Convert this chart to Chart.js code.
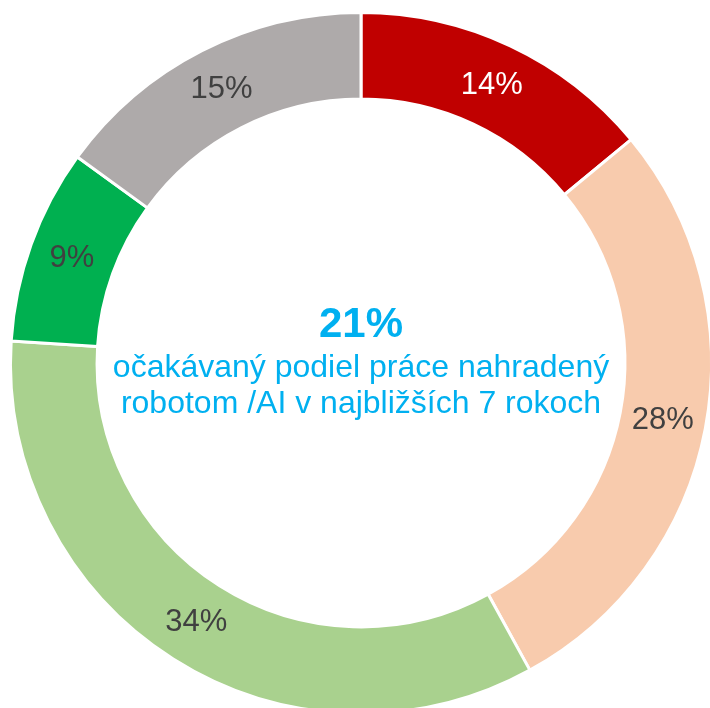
<!DOCTYPE html>
<html>
<head>
<meta charset="utf-8">
<script src="https://cdn.jsdelivr.net/npm/chart.js@4"></script>
<style>
  html, body { margin: 0; padding: 0; background: #fff; overflow: hidden; }
  canvas { display: block; }
</style>
</head>
<body>
<canvas id="ring" width="722" height="726"></canvas>
<script>
const shares = [14, 28, 34, 9, 15];
const sliceColors = ["#C00000", "#F8CBAD", "#A9D18E", "#00B050", "#AEAAAA"];
const labelColors = ["#ffffff", "#404040", "#404040", "#404040", "#404040"];
const centerValue = "21%";
const centerLines = ["očakávaný podiel práce nahradený", "robotom /AI v najbližších 7 rokoch"];

// percent labels in the middle of every ring segment
const sliceLabels = {
  id: "sliceLabels",
  afterDatasetsDraw(chart) {
    const ctx = chart.ctx;
    const meta = chart.getDatasetMeta(0);
    ctx.save();
    ctx.font = "31px 'Liberation Sans', Arial, sans-serif";
    ctx.textAlign = "center";
    ctx.textBaseline = "middle";
    meta.data.forEach((arc, i) => {
      const p = arc.tooltipPosition();
      ctx.fillStyle = labelColors[i];
      ctx.fillText(shares[i] + "%", p.x, p.y);
    });
    ctx.restore();
  }
};

const centerText = {
  id: "centerText",
  afterDraw(chart) {
    const ctx = chart.ctx;
    const arc = chart.getDatasetMeta(0).data[0];
    const cx = arc.x, cy = arc.y;
    ctx.save();
    ctx.fillStyle = "#00B0F0";
    ctx.textAlign = "center";
    ctx.textBaseline = "alphabetic";
    ctx.font = "bold 42px 'Liberation Sans', Arial, sans-serif";
    ctx.fillText(centerValue, cx, cy - 26);
    ctx.font = "32px 'Liberation Sans', Arial, sans-serif";
    ctx.fillText(centerLines[0], cx, cy + 14);
    ctx.fillText(centerLines[1], cx, cy + 50);
    ctx.restore();
  }
};

new Chart(document.getElementById("ring").getContext("2d"), {
  type: "doughnut",
  data: {
    labels: shares.map((v) => v + "%"),
    datasets: [
      {
        data: shares,
        backgroundColor: sliceColors,
        borderColor: "#ffffff",
        borderWidth: 3,
      },
    ],
  },
  options: {
    responsive: false,
    animation: false,
    cutout: "75.3%",
    layout: { padding: 9 },
    plugins: {
      legend: { display: false },
      tooltip: { enabled: false },
    },
  },
  plugins: [sliceLabels, centerText],
});
</script>
</body>
</html>
